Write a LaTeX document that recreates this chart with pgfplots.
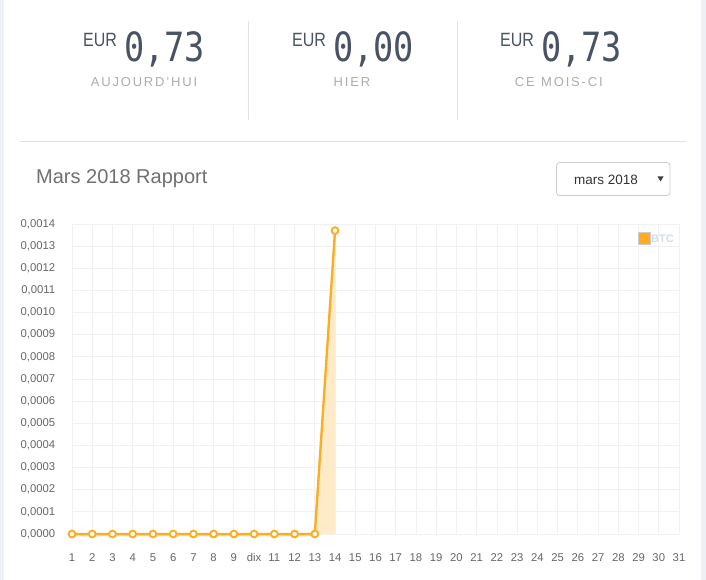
\documentclass[border=0pt]{standalone}
\usepackage{fontspec}
\setmainfont{Liberation Sans}
\newfontfamily\monofont{DejaVu Sans Mono}
\usepackage{pgfplots}
\pgfplotsset{compat=1.18}

\definecolor{btc}{HTML}{FFAD1F}
\definecolor{btcfill}{HTML}{FFEBC8}
\definecolor{gridc}{HTML}{F1F1F1}
\definecolor{ticktext}{HTML}{666666}
\definecolor{slate}{HTML}{4A5363}
\definecolor{caption}{HTML}{ADADAD}
\definecolor{sep}{HTML}{DDE1E8}
\definecolor{edge}{HTML}{EDF1F6}
\definecolor{titletext}{HTML}{707070}
\definecolor{boxline}{HTML}{CCCCCC}
\definecolor{legtext}{HTML}{D5DCE6}

% daily earnings, March 2018 (BTC)
\pgfplotstableread{
day value
1  0
2  0
3  0
4  0
5  0
6  0
7  0
8  0
9  0
10 0
11 0
12 0
13 0
14 0.00137
}\btcdata

\newcommand{\stat}[3]{% x of EUR, x of amount, amount
  \node[anchor=base west, inner sep=0, yscale=1.2, transform shape, text=slate,
        font=\fontsize{16}{16}\selectfont] at (#1pt,-47pt) {EUR};
  \node[anchor=base west, inner sep=0, yscale=1.2, transform shape, text=slate,
        font=\monofont\fontsize{33.6}{34}\selectfont] at (#2pt,-62pt) {#3};
}

\begin{document}
\begin{tikzpicture}
  % page background and side borders
  \fill[white] (0pt,0pt) rectangle (706pt,-580pt);
  \fill[edge] (0pt,0pt) rectangle (4pt,-580pt);
  \fill[edge] (701pt,0pt) rectangle (706pt,-580pt);

  % summary figures
  \stat{83}{124}{0,73}
  \stat{292}{333}{0,00}
  \stat{500}{541}{0,73}
  \begin{scope}[every node/.style={inner sep=0, text=caption,
      font=\fontsize{13}{13}\selectfont\addfontfeatures{LetterSpace=14}}]
    \node[anchor=base] at (144pt,-86.5pt) {AUJOURD'HUI};
    \node[anchor=base] at (352pt,-86.5pt) {HIER};
    \node[anchor=base east] at (535pt,-86.5pt) {CE};
    \node[anchor=base west] at (541pt,-86.5pt) {MOIS-CI};
  \end{scope}
  \draw[sep, line width=0.8pt] (248pt,-21pt) -- (248pt,-120pt);
  \draw[sep, line width=0.8pt] (457pt,-21pt) -- (457pt,-120pt);
  \draw[sep, line width=0.8pt] (20pt,-141pt) -- (686pt,-141pt);

  % report title and month selector
  \node[anchor=base west, inner sep=0, text=titletext,
        font=\fontsize{20}{20}\selectfont] at (36pt,-183.5pt) {Mars 2018 Rapport};
  \draw[boxline, line width=0.8pt, rounded corners=3pt]
    (556.5pt,-162.5pt) rectangle (670pt,-195.5pt);
  \node[anchor=base, inner sep=0, text=black!80,
        font=\fontsize{13.5}{14}\selectfont] at (606pt,-184pt) {mars 2018};
  \fill[black!75] (657.5pt,-176.5pt) -- (663.5pt,-176.5pt) -- (660.5pt,-181.5pt) -- cycle;

  \begin{axis}[
      at={(72pt,-534pt)}, anchor=south west,
      scale only axis, width=607pt, height=310pt,
      xmin=1, xmax=31, ymin=0, ymax=0.0014,
      axis line style={draw=none},
      major tick length=0pt,
      grid=major, grid style={gridc, line width=0.8pt},
      xtick={1,...,31},
      xticklabels={1,2,3,4,5,6,7,8,9,dix,11,12,13,14,15,16,17,18,19,20,21,22,23,24,25,26,27,28,29,30,31},
      ytick={0,0.0001,0.0002,0.0003,0.0004,0.0005,0.0006,0.0007,0.0008,0.0009,0.0010,0.0011,0.0012,0.0013,0.0014},
      scaled y ticks=false,
      yticklabel style={/pgf/number format/fixed, /pgf/number format/fixed zerofill,
                        /pgf/number format/precision=4, /pgf/number format/use comma,
                        /pgf/number format/assume math mode=true},
      ticklabel style={font=\fontsize{11.3}{11.3}\selectfont, text=ticktext},
      yticklabel style={anchor=east, xshift=-13.3pt},
      xticklabel style={anchor=base, yshift=-27.5pt},
      clip=false,
    ]
    \addplot[draw=none, fill=btcfill] table[x=day, y=value] {\btcdata} \closedcycle;
    % soft shadow beneath the series
    \addplot[black!12, line width=2.2pt, yshift=-1.2pt, forget plot]
      table[x=day, y=value] {\btcdata};
    \addplot[btc, line width=2.3pt, mark=*, mark size=3.4pt,
             mark options={fill=white, draw=btc, line width=1.9pt}]
      table[x=day, y=value] {\btcdata};
  \end{axis}

  % legend
  \draw[boxline, line width=0.8pt, fill=btc] (638pt,-232pt) rectangle (650pt,-244pt);
  \node[anchor=west, inner sep=0, text=legtext,
        font=\bfseries\fontsize{11}{11}\selectfont] at (651pt,-238.5pt) {BTC};
\end{tikzpicture}
\end{document}
